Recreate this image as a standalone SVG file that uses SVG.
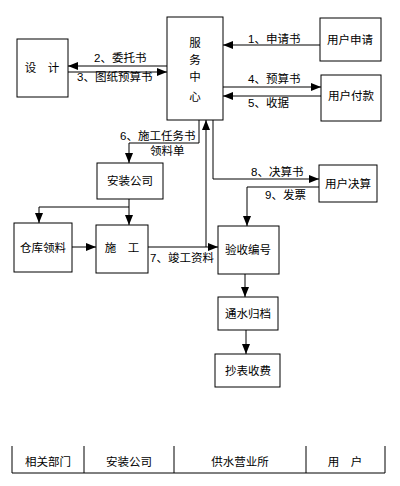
<svg xmlns="http://www.w3.org/2000/svg" width="400" height="486" viewBox="0 0 400 486">
<style>
rect.b{fill:#fff;stroke:#000;stroke-width:1}
text{font-family:"Liberation Sans","Noto Sans CJK SC",sans-serif;font-size:11.5px;fill:#000}
text.c{text-anchor:middle}
.l{fill:none;stroke:#000;stroke-width:1}
</style>
<defs>
<marker id="a" viewBox="0 0 10 8" refX="10" refY="4" markerWidth="10" markerHeight="8" markerUnits="userSpaceOnUse" orient="auto">
<path d="M0,0L10,4L0,8z" fill="#000"/>
</marker>
</defs>
<rect width="400" height="486" fill="#fff"/>
<g id="connectors">
<path class="l" d="M320,45H223" marker-end="url(#a)"/>
<path class="l" d="M167,66H68" marker-end="url(#a)"/>
<path class="l" d="M68,72H167" marker-end="url(#a)"/>
<path class="l" d="M223,87H321" marker-end="url(#a)"/>
<path class="l" d="M321,96H223" marker-end="url(#a)"/>
<path class="l" d="M199,120V143H129V163" marker-end="url(#a)"/>
<path class="l" d="M129,199V225" marker-end="url(#a)"/>
<path class="l" d="M129,207H39V223" marker-end="url(#a)"/>
<path class="l" d="M72,247H96" marker-end="url(#a)"/>
<path class="l" d="M148,247H218" marker-end="url(#a)"/>
<path class="l" d="M206,247V120" marker-end="url(#a)"/>
<path class="l" d="M213,120V179H319" marker-end="url(#a)"/>
<path class="l" d="M319,187H247V226" marker-end="url(#a)"/>
<path class="l" d="M245,274V297" marker-end="url(#a)"/>
<path class="l" d="M246,330V354" marker-end="url(#a)"/>
<text x="248" y="43">1、申请书</text>
<text x="94" y="62">2、委托书</text>
<text x="77" y="81">3、图纸预算书</text>
<text x="248" y="83">4、预算书</text>
<text x="248" y="107">5、收据</text>
<text x="120" y="140">6、施工任务书</text>
<text x="150" y="155">领料单</text>
<text x="150" y="262">7、竣工资料</text>
<text x="251" y="176">8、决算书</text>
<text x="265" y="199">9、发票</text>
</g>
<g id="service"><rect class="b" x="167" y="17" width="56" height="103"/>
<text class="c" x="195" y="47">服</text><text class="c" x="195" y="64">务</text><text class="c" x="195" y="81">中</text><text class="c" x="195" y="101">心</text></g>
<g id="design"><rect class="b" x="17" y="39" width="51" height="58"/><text class="c" x="42" y="72">设　计</text></g>
<g id="apply"><rect class="b" x="320" y="18" width="61" height="43"/><text class="c" x="350" y="44">用户申请</text></g>
<g id="pay"><rect class="b" x="321" y="75" width="60" height="46"/><text class="c" x="351" y="100">用户付款</text></g>
<g id="install"><rect class="b" x="97" y="163" width="66" height="36"/><text class="c" x="130" y="185">安装公司</text></g>
<g id="store"><rect class="b" x="14" y="223" width="58" height="49"/><text class="c" x="43" y="252">仓库领料</text></g>
<g id="build"><rect class="b" x="96" y="225" width="52" height="48"/><text class="c" x="122" y="252">施　工</text></g>
<g id="check"><rect class="b" x="218" y="226" width="61" height="48"/><text class="c" x="248" y="254">验收编号</text></g>
<g id="settle"><rect class="b" x="319" y="165" width="58" height="37"/><text class="c" x="348" y="188">用户决算</text></g>
<g id="archive"><rect class="b" x="218" y="297" width="60" height="33"/><text class="c" x="248" y="318">通水归档</text></g>
<g id="fee"><rect class="b" x="215" y="354" width="65" height="33"/><text class="c" x="248" y="375">抄表收费</text></g>
<g id="legend">
<path class="l" d="M12,446V473H385V446M84,446V473M174,446V473M306,446V473"/>
<text class="c" x="48" y="466">相关部门</text>
<text class="c" x="129" y="466">安装公司</text>
<text class="c" x="240" y="466">供水营业所</text>
<text class="c" x="345" y="466">用　户</text>
</g>
</svg>
